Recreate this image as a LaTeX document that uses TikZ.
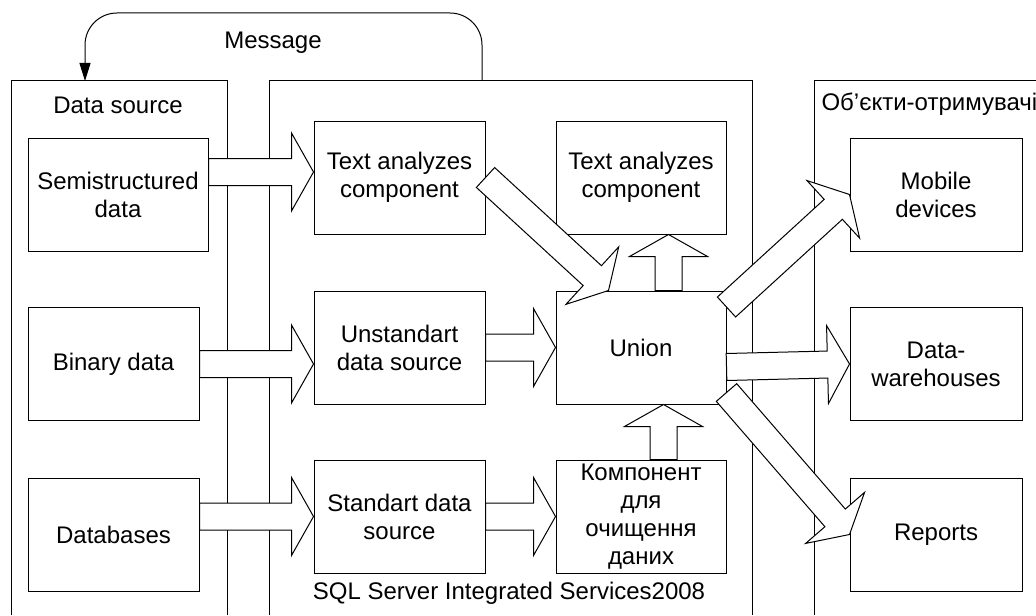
\documentclass[tikz,border=0pt]{standalone}
\usepackage{fontspec}
\setmainfont{Liberation Sans}
\usetikzlibrary{calc,arrows.meta}

% hollow block arrow from tail coordinate #1 to tip coordinate #2
\newcommand\blockarrow[2]{%
  \path ($(#2)!11pt!(#1)$) coordinate (ba-base);
  \filldraw[barrow]
    ($(#1)!6.75pt!90:(#2)$) --
    ($(ba-base)!6.75pt!-90:(#1)$) --
    ($(ba-base)!19.5pt!-90:(#1)$) --
    (#2) --
    ($(ba-base)!19.5pt!90:(#1)$) --
    ($(ba-base)!6.75pt!90:(#1)$) --
    ($(#1)!6.75pt!-90:(#2)$) -- cycle;
}

\begin{document}
\begin{tikzpicture}[x=0.5pt,y=-0.5pt,
  line width=0.5pt,
  every node/.style={font=\fontsize{12pt}{14pt}\selectfont},
  box/.style={draw, fill=white, align=center, inner sep=0pt,
    minimum height=56.5pt},
  colA/.style={box, minimum width=85.5pt},
  colB/.style={box, minimum width=85.5pt},
  colC/.style={box, minimum width=85pt},
  colD/.style={box, minimum width=86pt},
  barrow/.style={draw=black, fill=white, line join=miter},
  container/.style={draw=black},
  msg/.style={rounded corners=16pt, -{Triangle[length=9pt,width=5.5pt]}}]

\useasboundingbox (0,0) rectangle (1036,615);

% three open containers
\draw[container] (11,615) |- (227,81) -- (227,615);
\draw[container] (269,615) |- (752,81) -- (752,615);
\draw[container] (814,615) |- (1036,81);
\coordinate (ssis-top) at (482,81);
\coordinate (ds-top) at (85,81);

\node (lblds) at (118,105) {Data source};
\node[anchor=west, inner sep=0pt] (lblrcv) at (821,104) {Об’єкти-отримувачі};
\node (lblssis) at (509,593) {SQL Server Integrated Services2008};

% feedback message
\draw[msg] (ssis-top) -- (482,13) -- (85,13) -- (ds-top);
\node (lblmsg) at (273,43) {Message};

% sources
\node[colA, minimum width=90pt] (semi) at (118,194.5) {Semistructured\\data};
\node[colA] (binary) at (113.5,364) {Binary data};
\node[colA] (dbs) at (113.5,534.5) {Databases};

% SSIS components
\node[colB] (ta1) at (399.5,177.5) {Text analyzes\\component};
\node[colB] (uds) at (399.5,347.5) {Unstandart\\data source};
\node[colB] (sds) at (399.5,516.5) {Standart data\\source};
\node[colC] (ta2) at (641,177.5) {Text analyzes\\component};
\node[colC] (union) at (641,347.5) {Union};
\node[colC] (clean) at (641,516.5) {Компонент\\для\\очищення\\даних};

% receivers
\node[colD] (mob) at (936,194.5) {Mobile\\devices};
\node[colD] (dw) at (936,364) {Data-\\warehouses};
\node[colD] (rep) at (936,534.5) {Reports};

% arrow end points
\coordinate (a1tip) at ($(ta1.west)+(0,-5.5)$);
\coordinate (a1tail) at (semi.east |- a1tip);
\coordinate (a2tip) at (uds.west |- binary.east);
\coordinate (a3tail) at (dbs.east |- sds.west);
\coordinate (a6tail) at ($(clean.north)+(22.5,0)$);
\coordinate (a6tip) at (a6tail |- union.south);
\coordinate (a7tail) at ($(union.north)+(27.5,0)$);
\coordinate (a7tip) at (a7tail |- ta2.south);
\coordinate (a8tip) at ($(union.north west)+(53,0)$);
\coordinate (a9tail) at ($(union.north east)+(0,16.5)$);
\coordinate (a10tail) at ($(union.east)+(0,19.5)$);
\coordinate (a11tail) at ($(union.south east)+(0,-12)$);

% flows
\blockarrow{a1tail}{a1tip}
\blockarrow{binary.east}{a2tip}
\blockarrow{a3tail}{sds.west}
\blockarrow{uds.east}{union.west}
\blockarrow{sds.east}{clean.west}
\blockarrow{a6tail}{a6tip}
\blockarrow{a7tail}{a7tip}
\blockarrow{ta1.east}{a8tip}
\blockarrow{a9tail}{mob.west}
\blockarrow{a10tail}{dw.west}
\blockarrow{a11tail}{rep.west}

\end{tikzpicture}
\end{document}
